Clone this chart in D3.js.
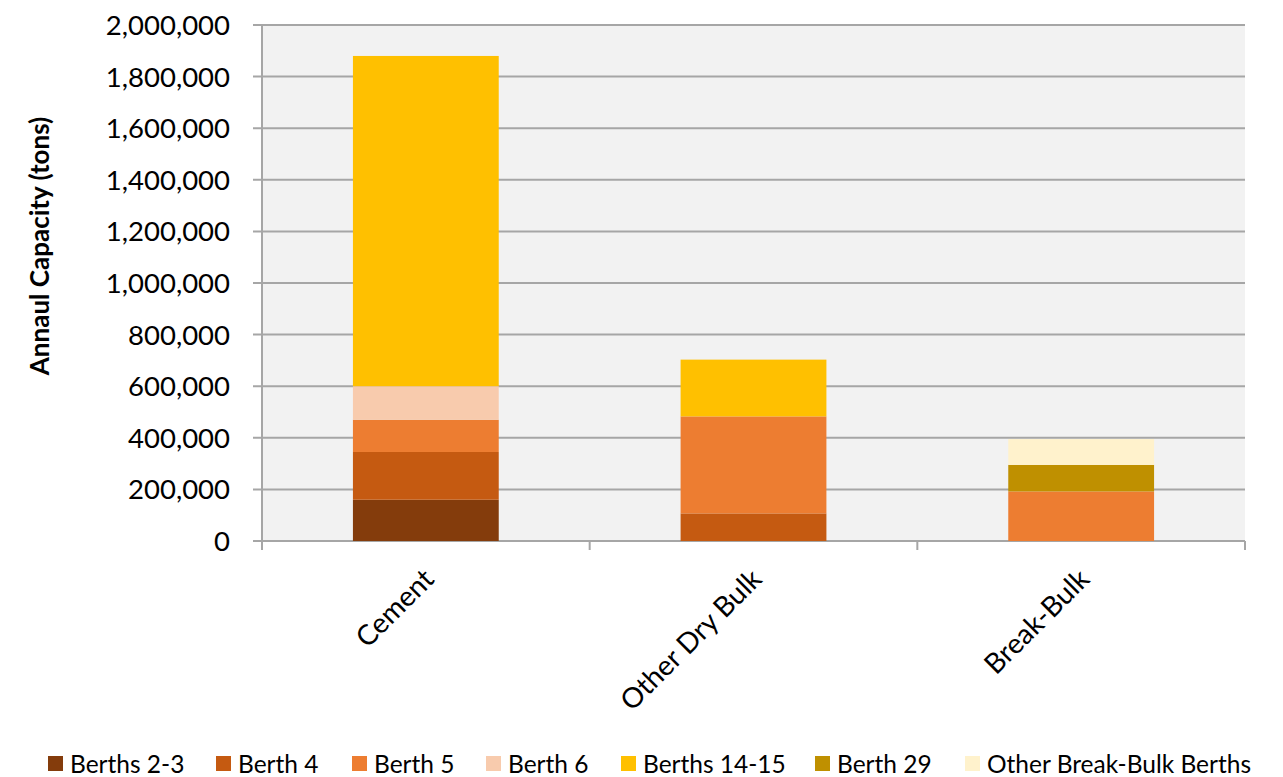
<!DOCTYPE html>
<html>
<head>
<meta charset="utf-8">
<script src="https://cdn.jsdelivr.net/npm/d3@7"></script>
<style>
  html, body { margin: 0; padding: 0; background: #ffffff; }
  svg { display: block; }
  text { font-family: Lato, "Open Sans", sans-serif; fill: #000; }
</style>
</head>
<body>
<svg id="chart" width="1283" height="777"></svg>
<script>
// ---- data ----
const categories = ["Cement", "Other Dry Bulk", "Break-Bulk"];
const seriesNames = ["Berths 2-3", "Berth 4", "Berth 5", "Berth 6", "Berths 14-15", "Berth 29", "Other Break-Bulk Berths"];
const berths23      = [160000, 0, 0];
const berth4        = [185000, 107000, 0];
const berth5        = [125000, 376000, 192000];
const berth6        = [130000, 0, 0];
const berths1415    = [1280000, 220000, 0];
const berth29       = [0, 0, 103000];
const otherBreakBulk= [0, 0, 100000];
const seriesColors = ["#843C0C", "#C55A11", "#ED7D31", "#F8CBAD", "#FFC000", "#BF9000", "#FFF2CC"];
const yTicks = [0, 200000, 400000, 600000, 800000, 1000000, 1200000, 1400000, 1600000, 1800000, 2000000];
const yTitle = "Annaul Capacity (tons)";

const seriesValues = [berths23, berth4, berth5, berth6, berths1415, berth29, otherBreakBulk];
const table = categories.map((c, i) => {
  const row = { category: c };
  seriesNames.forEach((s, j) => row[s] = seriesValues[j][i]);
  return row;
});

const svg = d3.select("#chart");
const margin = { left: 262, right: 1245, top: 25, bottom: 541 };

const x = d3.scaleBand().domain(categories).range([margin.left, margin.right]).paddingInner(0.555).paddingOuter(0.2775);
const xOuter = d3.scaleBand().domain(categories).range([margin.left, margin.right]);
const y = d3.scaleLinear().domain([0, 2000000]).range([margin.bottom, margin.top]);

// plot background
svg.append("rect")
  .attr("x", margin.left).attr("y", margin.top)
  .attr("width", margin.right - margin.left).attr("height", margin.bottom - margin.top)
  .attr("fill", "#F2F2F2");

// gridlines
svg.append("g").selectAll("line").data(yTicks).join("line")
  .attr("x1", margin.left - 9).attr("x2", margin.right)
  .attr("y1", d => y(d)).attr("y2", d => y(d))
  .attr("stroke", "#A6A6A6").attr("stroke-width", 2);

// y axis line
svg.append("line")
  .attr("x1", margin.left).attr("x2", margin.left)
  .attr("y1", margin.top).attr("y2", margin.bottom + 9)
  .attr("stroke", "#A6A6A6").attr("stroke-width", 2);

// x category tick marks
const xTickPos = categories.map(c => xOuter(c)).concat([margin.right]);
svg.append("g").selectAll("line").data(xTickPos).join("line")
  .attr("x1", d => d).attr("x2", d => d)
  .attr("y1", margin.bottom).attr("y2", margin.bottom + 9)
  .attr("stroke", "#A6A6A6").attr("stroke-width", 2);

// y tick labels
const fmt = d3.format(",");
svg.append("g").selectAll("text").data(yTicks).join("text")
  .attr("x", 230).attr("y", d => y(d))
  .attr("dy", "0.36em")
  .attr("text-anchor", "end")
  .attr("font-size", 27.5)
  .text(d => fmt(d));

// stacked bars
const stack = d3.stack().keys(seriesNames);
const stacked = stack(table);
svg.append("g").selectAll("g").data(stacked).join("g")
  .attr("fill", (d, i) => seriesColors[i])
  .selectAll("rect").data(d => d).join("rect")
  .attr("x", d => x(d.data.category))
  .attr("width", x.bandwidth())
  .attr("y", d => y(d[1]))
  .attr("height", d => Math.max(0, y(d[0]) - y(d[1])));

// category labels
svg.append("g").selectAll("text").data(categories).join("text")
  .attr("transform", c => `translate(${xOuter(c) + xOuter.bandwidth() / 2 - 4},${margin.bottom + 26}) rotate(-45)`)
  .attr("text-anchor", "end")
  .attr("dy", "0.7em")
  .attr("font-size", 28)
  .text(c => c);

// y title
svg.append("text")
  .attr("transform", `translate(49,246) rotate(-90)`)
  .attr("text-anchor", "middle")
  .attr("font-size", 26)
  .attr("font-weight", "bold")
  .text(yTitle);

// legend
const legendX = [48, 216, 352, 486, 621, 815, 965];
const lg = svg.append("g").selectAll("g").data(seriesNames).join("g")
  .attr("transform", (d, i) => `translate(${legendX[i]},756)`);
lg.append("rect").attr("x", 0).attr("y", 0).attr("width", 15).attr("height", 15)
  .attr("fill", (d, i) => seriesColors[i]);
lg.append("text").attr("x", 22).attr("y", 8).attr("dy", "0.36em")
  .attr("font-size", 24.5).text(d => d);
</script>
</body>
</html>
